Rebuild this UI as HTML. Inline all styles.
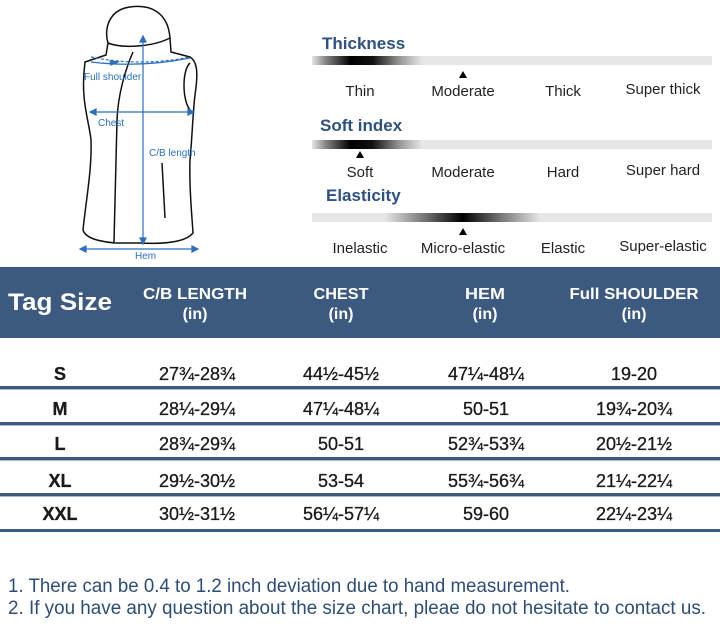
<!DOCTYPE html>
<html><head><meta charset="utf-8"><style>
html,body{margin:0;padding:0;background:#fff;}
svg{display:block;font-family:"Liberation Sans",sans-serif;}
</style></head><body>
<svg width="720" height="625" viewBox="0 0 720 625" xmlns="http://www.w3.org/2000/svg">
<defs>
<linearGradient id="g1" x1="0" x2="1"><stop offset="0" stop-color="#e6e6e6"/><stop offset="0.12" stop-color="#888"/><stop offset="0.35" stop-color="#000"/><stop offset="0.55" stop-color="#111"/><stop offset="0.8" stop-color="#999"/><stop offset="1" stop-color="#e6e6e6"/></linearGradient>
<linearGradient id="g3" x1="0" x2="1"><stop offset="0" stop-color="#e6e6e6"/><stop offset="0.25" stop-color="#777"/><stop offset="0.5" stop-color="#000"/><stop offset="0.75" stop-color="#777"/><stop offset="1" stop-color="#e6e6e6"/></linearGradient>
</defs>
<g fill="none" stroke="#111" stroke-width="1.5">
<path d="M108,43 C104,30 108,10 130,7 C150,4 168,12 170,38 L171,52 L190,57 C198,62 198,75 195,95 C193,110 192,140 190,160 C189,190 192,215 193,233 C185,243 160,244 140,243 L115,243 C95,241 85,237 83,230 C86,200 92,170 91,140 C89,120 80,100 85,62 L106,55 Z"/>
<path d="M108,43 C120,48 150,48 170,38"/>
<path d="M133,52 C125,70 118,95 117,120 L114,242"/>
<path d="M190,63 C182,70 182,100 190,110"/>
<path d="M162,163 L165,218"/>
</g>
<g stroke="#2a6fc0" stroke-width="1.2" fill="#2a6fc0">
<path d="M91,57 Q140,67 190,57" fill="none" stroke-dasharray="3,2"/>
<path d="M91,62 Q140,68 190,58" fill="none"/>
<path d="M110,61 l8,1 -7,3z"/>
<line x1="92" y1="112" x2="192" y2="112"/>
<path d="M90,112 l6,-3 0,6z M194,112 l-6,-3 0,6z"/>
<line x1="143" y1="38" x2="143" y2="242"/>
<path d="M143,36 l-3,6 6,0z M143,244 l-3,-6 6,0z"/>
<line x1="82" y1="249" x2="196" y2="249"/>
<path d="M80,249 l6,-3 0,6z M198,249 l-6,-3 0,6z"/>
</g>
<g fill="#2a6fc0" font-size="10">
<text x="84" y="80">Full shoulder</text>
<text x="98" y="126">Chest</text>
<text x="149" y="156">C/B length</text>
<text x="135" y="259">Hem</text>
</g>
<g font-weight="bold" fill="#2d5183" font-size="17">
<text x="322" y="49">Thickness</text>
<text x="320" y="131">Soft index</text>
<text x="326" y="201">Elasticity</text>
</g>
<rect x="312" y="56" width="400" height="9" fill="#e6e6e6"/>
<rect x="312" y="56" width="110" height="9" fill="url(#g1)"/>
<rect x="312" y="140" width="400" height="9" fill="#e6e6e6"/>
<rect x="312" y="140" width="110" height="9" fill="url(#g1)"/>
<rect x="312" y="213" width="400" height="9" fill="#e6e6e6"/>
<rect x="385" y="213" width="155" height="9" fill="url(#g3)"/>
<path d="M463,71 l-4,7 8,0z M360,151 l-4,7 8,0z M463,228 l-4,7 8,0z" fill="#000"/>
<g font-size="15" fill="#222" text-anchor="middle">
<text x="360" y="96">Thin</text><text x="463" y="96">Moderate</text><text x="563" y="96">Thick</text><text x="663" y="94">Super thick</text>
<text x="360" y="177">Soft</text><text x="463" y="177">Moderate</text><text x="563" y="177">Hard</text><text x="663" y="175">Super hard</text>
<text x="360" y="253">Inelastic</text><text x="463" y="253">Micro-elastic</text><text x="563" y="253">Elastic</text><text x="663" y="251">Super-elastic</text>
</g>
<rect x="0" y="267" width="720" height="71" fill="#3c5a80"/>
<g fill="#fff" font-weight="bold" text-anchor="middle">
<text x="60" y="310" font-size="24" textLength="104" lengthAdjust="spacingAndGlyphs">Tag Size</text>
<g font-size="16">
<text x="195" y="299" textLength="104" lengthAdjust="spacingAndGlyphs">C/B LENGTH</text><text x="195" y="319">(in)</text>
<text x="341" y="299" textLength="55" lengthAdjust="spacingAndGlyphs">CHEST</text><text x="341" y="319">(in)</text>
<text x="485" y="299" textLength="40" lengthAdjust="spacingAndGlyphs">HEM</text><text x="485" y="319">(in)</text>
<text x="634" y="299" textLength="129" lengthAdjust="spacingAndGlyphs">Full SHOULDER</text><text x="634" y="319">(in)</text>
</g></g>
<g fill="#3c5a80">
<rect x="0" y="386" width="720" height="3"/><rect x="0" y="422" width="720" height="3"/><rect x="0" y="457" width="720" height="3"/><rect x="0" y="493" width="720" height="3"/><rect x="0" y="529" width="720" height="3"/>
</g>
<g fill="#aab8c8"><rect x="0" y="389" width="720" height="1"/><rect x="0" y="425" width="720" height="1"/><rect x="0" y="460" width="720" height="1"/><rect x="0" y="496" width="720" height="1"/></g>
<g font-size="18" fill="#1a1a1a" text-anchor="middle" stroke="#1a1a1a" stroke-width="0.3">
<g font-weight="bold"><text x="60" y="380">S</text><text x="60" y="415">M</text><text x="60" y="450">L</text><text x="60" y="487">XL</text><text x="60" y="520">XXL</text></g>
<text x="197" y="380">27¾-28¾</text><text x="341" y="380">44½-45½</text><text x="486" y="380">47¼-48¼</text><text x="634" y="380">19-20</text>
<text x="197" y="415">28¼-29¼</text><text x="341" y="415">47¼-48¼</text><text x="486" y="415">50-51</text><text x="634" y="415">19¾-20¾</text>
<text x="197" y="450">28¾-29¾</text><text x="341" y="450">50-51</text><text x="486" y="450">52¾-53¾</text><text x="634" y="450">20½-21½</text>
<text x="197" y="487">29½-30½</text><text x="341" y="487">53-54</text><text x="486" y="487">55¾-56¾</text><text x="634" y="487">21¼-22¼</text>
<text x="197" y="520">30½-31½</text><text x="341" y="520">56¼-57¼</text><text x="486" y="520">59-60</text><text x="634" y="520">22¼-23¼</text>
</g>
<g font-size="19" fill="#2d4d78">
<text x="8" y="592" textLength="562" lengthAdjust="spacingAndGlyphs">1. There can be 0.4 to 1.2 inch deviation due to hand measurement.</text>
<text x="8" y="614" textLength="698" lengthAdjust="spacingAndGlyphs">2. If you have any question about the size chart, pleae do not hesitate to contact us.</text>
</g>
</svg>
</body></html>
